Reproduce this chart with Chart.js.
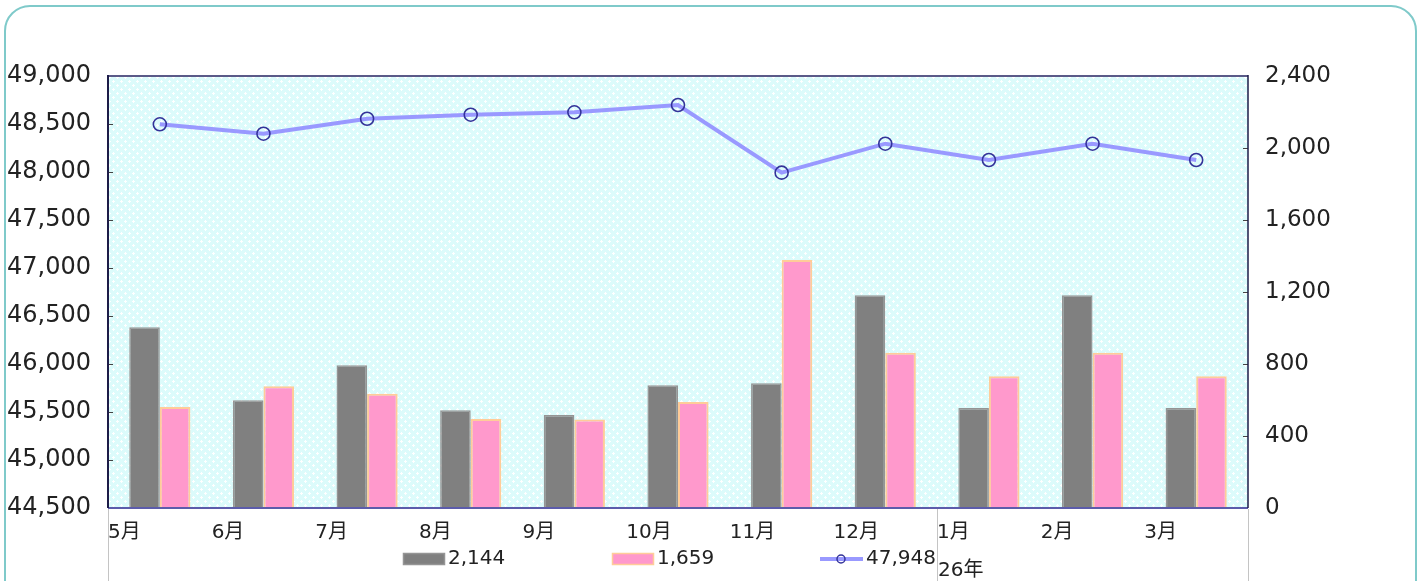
<!DOCTYPE html>
<html><head><meta charset="utf-8">
<script src="https://cdn.jsdelivr.net/npm/chart.js@4/dist/chart.umd.min.js"></script>
<style>
html,body{margin:0;padding:0;background:#fff;overflow:hidden;width:1423px;height:581px;}
#frame{position:absolute;left:4px;top:5px;width:1413px;height:620px;border:2px solid #7fcaca;border-radius:26px;box-sizing:border-box;}
#wrap{position:absolute;left:0;top:0;width:1423px;height:581px;}
</style></head><body>
<div id="frame"></div>
<div id="wrap"><canvas id="c" width="1423" height="581"></canvas></div>
<script>
// ---- data ----
const months = ['5月','6月','7月','8月','9月','10月','11月','12月','1月','2月','3月'];
const seriesNames = ['2,144','1,659','47,948'];
const grayVals = [1004, 598, 793, 543, 517, 682, 693, 1182, 556, 1182, 556];
const pinkVals = [561, 676, 635, 494, 491, 589, 1378, 863, 732, 863, 732];
const lineVals = [48497, 48399, 48555, 48597, 48622, 48698, 47993, 48295, 48125, 48295, 48125];
const leftTicks = [44500, 45000, 45500, 46000, 46500, 47000, 47500, 48000, 48500, 49000];
const rightTicks = [0, 400, 800, 1200, 1600, 2000, 2400];
const yearLabels = ['', '26年'];
const yearStarts = [0, 8];

// ---- layout/style ----
const W = 1423, H = 581;
const PL = 108, PR = 1248, PT = 76, PB = 508;
const FONT = "'DejaVu Sans', 'Noto Sans CJK JP', sans-serif";
const catW = (PR - PL) / months.length;

function makePattern(){
  const c = document.createElement('canvas'); c.width = 8; c.height = 8;
  const g = c.getContext('2d');
  g.fillStyle = '#dcfbfb'; g.fillRect(0,0,8,8);
  g.fillStyle = 'rgba(255,255,255,0.95)';
  g.fillRect(1,1,1,1); g.fillRect(0,1,3,1); g.fillRect(1,0,1,3);
  g.fillRect(5,5,1,1); g.fillRect(4,5,3,1); g.fillRect(5,4,1,3);
  return g.createPattern(c, 'repeat');
}
const bgPattern = makePattern();

const decor = {
  id: 'decor',
  beforeDatasetsDraw(chart){
    const {ctx, chartArea:a} = chart;
    ctx.save();
    ctx.fillStyle = bgPattern;
    ctx.fillRect(a.left, a.top, a.right - a.left, a.bottom - a.top);
    ctx.restore();
  },
  afterDatasetsDraw(chart){
    const {ctx, chartArea:a, scales} = chart;
    ctx.save();
    ctx.strokeStyle = '#444'; ctx.lineWidth = 1;
    scales.y.ticks.forEach(t => {
      const y = Math.round(scales.y.getPixelForValue(t.value)) + 0.5;
      ctx.beginPath(); ctx.moveTo(a.left, y); ctx.lineTo(a.left + 5, y); ctx.stroke();
    });
    scales.y1.ticks.forEach(t => {
      const y = Math.round(scales.y1.getPixelForValue(t.value)) + 0.5;
      ctx.beginPath(); ctx.moveTo(a.right - 5, y); ctx.lineTo(a.right, y); ctx.stroke();
    });
    ctx.lineWidth = 2;
    ctx.strokeStyle = '#5a5a88';
    ctx.beginPath(); ctx.moveTo(a.left, a.top); ctx.lineTo(a.right, a.top); ctx.stroke();
    ctx.strokeStyle = '#5c5cab';
    ctx.beginPath(); ctx.moveTo(a.left, a.bottom); ctx.lineTo(a.right, a.bottom); ctx.stroke();
    ctx.strokeStyle = '#1c1c48';
    ctx.beginPath(); ctx.moveTo(a.left, a.top - 1); ctx.lineTo(a.left, a.bottom); ctx.stroke();
    ctx.lineWidth = 1.5;
    ctx.beginPath(); ctx.moveTo(a.right, a.top - 1); ctx.lineTo(a.right, a.bottom); ctx.stroke();
    ctx.restore();
  },
  afterDraw(chart){
    const {ctx, chartArea:a, scales} = chart;
    const xs = scales.x;
    const step = xs.getPixelForTick(1) - xs.getPixelForTick(0);
    ctx.save();
    ctx.strokeStyle = '#c4c4c4'; ctx.lineWidth = 1;
    const seps = yearStarts.map(i => xs.getPixelForTick(i) - step / 2).concat([a.right]);
    seps.forEach(x => {
      const xx = Math.round(x) + 0.5;
      ctx.beginPath(); ctx.moveTo(xx, a.bottom + 1); ctx.lineTo(xx, H); ctx.stroke();
    });
    ctx.fillStyle = '#222'; ctx.font = '20px ' + FONT; ctx.textBaseline = 'middle'; ctx.textAlign = 'left';
    yearStarts.forEach((s, i) => {
      if (yearLabels[i]) ctx.fillText(yearLabels[i], xs.getPixelForTick(s) - step / 2 + 1, 571);
    });
    const ly = 559;
    const ds = chart.data.datasets;
    const items = [
      {x: 403, ds: ds[1], name: seriesNames[0], kind: 'bar'},
      {x: 612, ds: ds[2], name: seriesNames[1], kind: 'bar'},
      {x: 820, ds: ds[0], name: seriesNames[2], kind: 'line'}
    ];
    items.forEach(it => {
      if (it.kind === 'bar') {
        ctx.fillStyle = it.ds.backgroundColor;
        ctx.fillRect(it.x, ly - 6, 42, 12);
        ctx.strokeStyle = it.ds.borderColor; ctx.lineWidth = 1.5;
        ctx.strokeRect(it.x + 0.5, ly - 5.5, 41, 11);
        ctx.fillStyle = '#222';
        ctx.fillText(it.name, it.x + 45, ly);
      } else {
        ctx.strokeStyle = it.ds.borderColor; ctx.lineWidth = 4;
        ctx.beginPath(); ctx.moveTo(it.x, ly); ctx.lineTo(it.x + 43, ly); ctx.stroke();
        ctx.strokeStyle = it.ds.pointBorderColor; ctx.lineWidth = 1.5;
        ctx.beginPath(); ctx.arc(it.x + 21, ly, 4, 0, Math.PI * 2); ctx.stroke();
        ctx.fillStyle = '#222';
        ctx.fillText(it.name, it.x + 46, ly);
      }
    });
    ctx.restore();
  }
};

const chart = new Chart(document.getElementById('c'), {
  data: {
    labels: months,
    datasets: [
      {type: 'line', label: seriesNames[2], data: lineVals, yAxisID: 'y', order: 0,
       borderColor: '#9999ff', borderWidth: 4, tension: 0,
       pointRadius: 6.5, pointHoverRadius: 6.5, pointBorderColor: '#333399', pointBorderWidth: 1.6,
       pointBackgroundColor: 'rgba(0,0,0,0)'},
      {type: 'bar', label: seriesNames[0], data: grayVals, yAxisID: 'y1', order: 1,
       backgroundColor: '#808080', borderColor: '#959595', borderWidth: 1.5,
       barPercentage: 1, categoryPercentage: 0.59},
      {type: 'bar', label: seriesNames[1], data: pinkVals, yAxisID: 'y1', order: 2,
       backgroundColor: '#ff99cc', borderColor: '#ffcc99', borderWidth: 2,
       barPercentage: 1, categoryPercentage: 0.59}
    ]
  },
  options: {
    responsive: false, animation: false, devicePixelRatio: 1,
    layout: {padding: {top: PT, left: 0, right: 0, bottom: 0}},
    plugins: {legend: {display: false}, tooltip: {enabled: false}},
    scales: {
      x: {
        type: 'category', offset: true,
        grid: {display: false}, border: {display: false},
        ticks: {autoSkip: false, maxRotation: 0, minRotation: 0, align: 'start', labelOffset: -catW / 2,
                padding: 5, color: '#222', font: {family: FONT, size: 20}},
        afterFit(s){ s.height = H - PB; }
      },
      y: {
        position: 'left', min: leftTicks[0], max: leftTicks[leftTicks.length - 1],
        grid: {display: false}, border: {display: false},
        ticks: {stepSize: leftTicks[1] - leftTicks[0], padding: 9, color: '#222', font: {family: FONT, size: 24},
                callback: v => v.toLocaleString('en-US')},
        afterFit(s){ s.width = PL; }
      },
      y1: {
        position: 'right', min: rightTicks[0], max: rightTicks[rightTicks.length - 1],
        grid: {display: false}, border: {display: false},
        ticks: {stepSize: rightTicks[1] - rightTicks[0], padding: 9, color: '#222', font: {family: FONT, size: 23},
                callback: v => v.toLocaleString('en-US')},
        afterFit(s){ s.width = W - PR; }
      }
    }
  },
  plugins: [decor]
});
</script>
</body></html>
